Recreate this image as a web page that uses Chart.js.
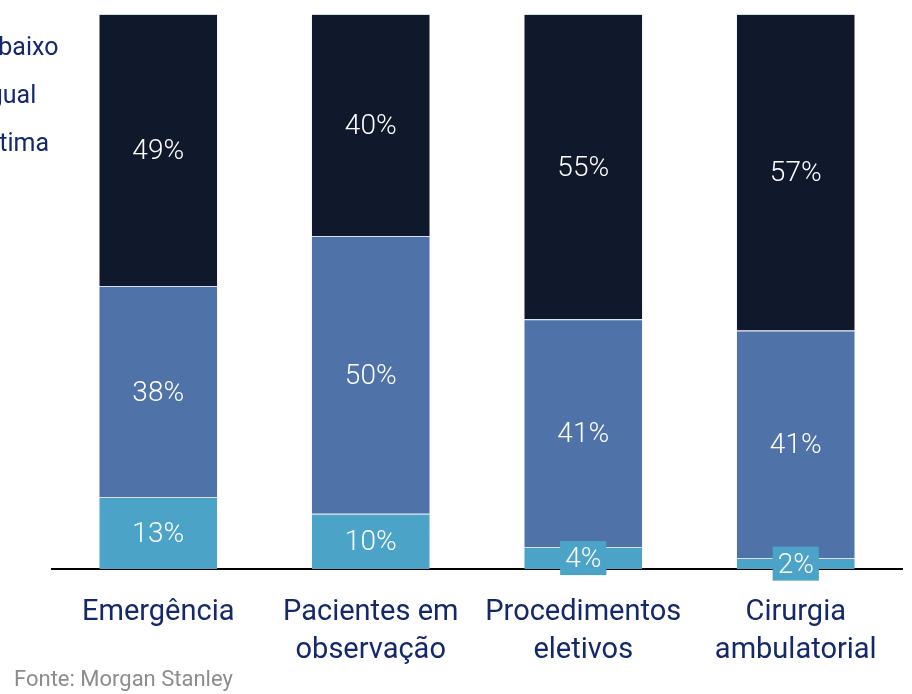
<!DOCTYPE html>
<html>
<head>
<meta charset="utf-8">
<script src="https://cdn.jsdelivr.net/npm/chart.js@4.4.1/dist/chart.umd.min.js"></script>
<style>
  html, body { margin: 0; padding: 0; background: #ffffff; }
  #wrap { width: 912px; height: 694px; position: relative; }
</style>
</head>
<body>
<div id="wrap"><canvas id="chart"></canvas></div>
<script>
// categories (two-line labels) and stacked shares, bottom to top
const categories = [
    ['Emergência'],
    ['Pacientes em', 'observação'],
    ['Procedimentos', 'eletivos'],
    ['Cirurgia', 'ambulatorial']
];
const bottomShare = [13, 10, 4, 2];
const middleShare = [38, 50, 41, 41];
const topShare = [49, 40, 55, 57];

const legendLabels = ['Abaixo', 'Igual', 'Ótima'];
const sourceNote = 'Fonte: Morgan Stanley';

const NAVY_TEXT = '#13296b';
const FONT = 'Roboto';

// white % labels in the middle of each segment, boxed when the segment is too thin
const segmentLabels = {
    id: 'segmentLabels',
    afterDatasetsDraw(chart) {
        const ctx = chart.ctx;
        ctx.save();
        ctx.font = `300 28px ${FONT}`;
        ctx.textAlign = 'center';
        ctx.textBaseline = 'middle';
        chart.data.datasets.forEach((ds, i) => {
            const meta = chart.getDatasetMeta(i);
            meta.data.forEach((bar, j) => {
                const cy = (bar.y + bar.base) / 2;
                const h = Math.abs(bar.base - bar.y);
                const txt = ds.data[j] + '%';
                if (h < 30) {
                    const w = ctx.measureText(txt).width + 10;
                    ctx.fillStyle = ds.backgroundColor;
                    ctx.fillRect(bar.x - w / 2, cy - 17, w, 34);
                }
                ctx.fillStyle = '#ffffff';
                ctx.fillText(txt, bar.x, cy + 2);
            });
        });
        ctx.restore();
    }
};

// cropped legend at the left edge and the source line
const sideText = {
    id: 'sideText',
    afterDraw(chart) {
        const ctx = chart.ctx;
        ctx.save();
        ctx.font = `25px ${FONT}`;
        ctx.fillStyle = NAVY_TEXT;
        ctx.textAlign = 'left';
        ctx.textBaseline = 'middle';
        legendLabels.forEach((t, i) => {
            ctx.fillText(t, -18, 49 + i * 48);
        });
        ctx.font = `22px ${FONT}`;
        ctx.fillStyle = '#8c8c8c';
        ctx.fillText(sourceNote, 14, 680);
        ctx.restore();
    }
};

new Chart(document.getElementById('chart'), {
    type: 'bar',
    data: {
        labels: categories,
        datasets: [
            { label: 'bottom', data: bottomShare, backgroundColor: '#4ba3c8' },
            { label: 'middle', data: middleShare, backgroundColor: '#4f72a8' },
            { label: 'top', data: topShare, backgroundColor: '#10182b' }
        ].map(d => Object.assign(d, {
            borderColor: 'rgba(170,185,210,0.45)',
            borderWidth: { top: 1, bottom: 0, left: 0, right: 0 },
            borderSkipped: false,
            categoryPercentage: 1,
            barPercentage: 0.555
        }))
    },
    options: {
        responsive: true,
        maintainAspectRatio: false,
        animation: false,
        layout: { padding: { top: 14, left: 52, right: 10, bottom: 0 } },
        plugins: {
            legend: { display: false },
            tooltip: { enabled: false }
        },
        scales: {
            x: {
                stacked: true,
                grid: { display: false, drawTicks: false },
                border: { display: true, color: '#000000', width: 2 },
                ticks: {
                    color: NAVY_TEXT,
                    padding: 25,
                    font: { family: FONT, size: 29, lineHeight: 1.29 },
                    maxRotation: 0
                }
            },
            y: {
                stacked: true,
                display: false,
                min: 0,
                max: 100
            }
        }
    },
    plugins: [segmentLabels, sideText]
});
</script>
</body>
</html>
